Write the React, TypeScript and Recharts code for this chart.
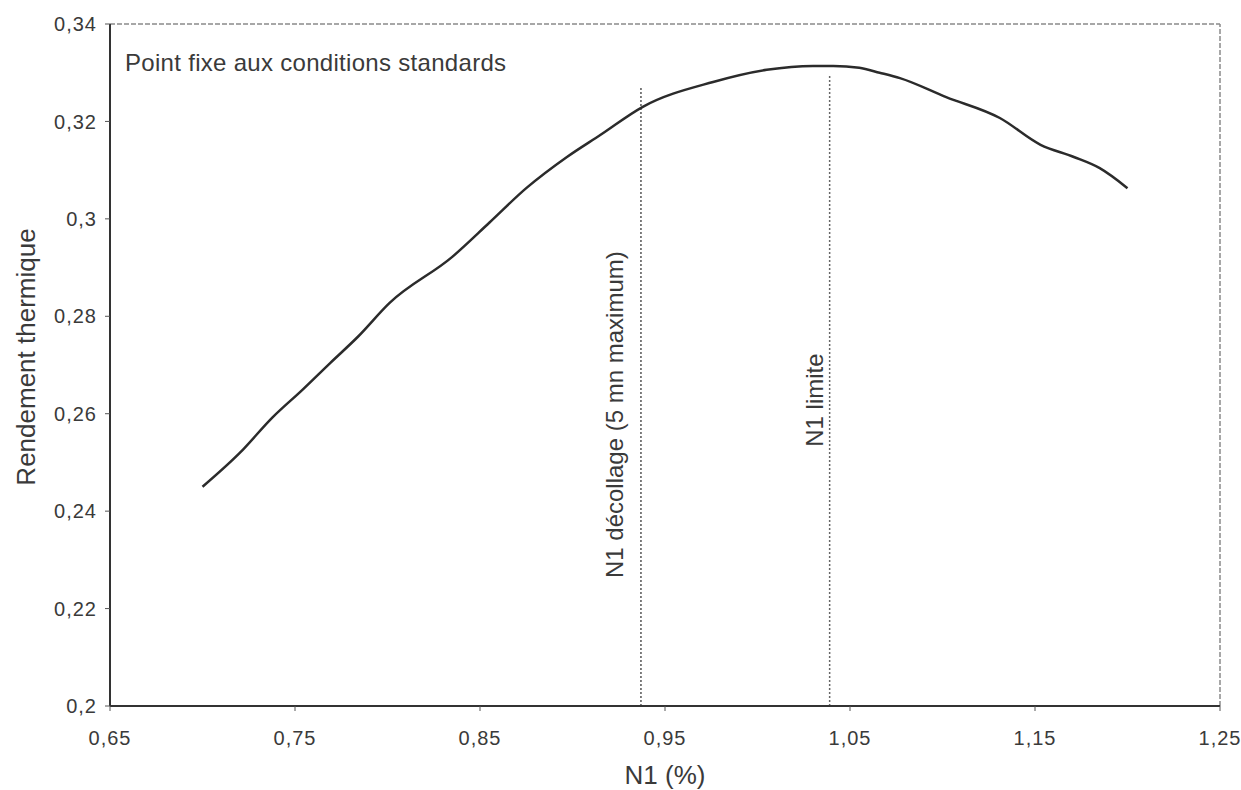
import { LineChart, Line, XAxis, YAxis, ReferenceLine } from "recharts";

const n1Values = [
  0.7, 0.72, 0.738, 0.754, 0.769, 0.784, 0.801, 0.835, 0.855, 0.875, 0.897, 0.915, 0.938,
  0.976, 1.005, 1.03, 1.041, 1.055, 1.066, 1.077, 1.102, 1.131, 1.153, 1.171, 1.185, 1.2,
];
const rendementValues = [
  0.245, 0.2519, 0.2593, 0.2649, 0.2704, 0.2758, 0.2827, 0.2922, 0.2992, 0.3063, 0.3127,
  0.3172, 0.323, 0.3281, 0.3306, 0.3314, 0.3314, 0.331, 0.33, 0.3289, 0.325, 0.3207,
  0.3152, 0.3127, 0.3104, 0.3063,
];
const xTicks = [0.65, 0.75, 0.85, 0.95, 1.05, 1.15, 1.25];
const yTicks = [0.2, 0.22, 0.24, 0.26, 0.28, 0.3, 0.32, 0.34];

// N1 décollage and N1 limite markers: x position, top of the dotted line
const decollage = { x: 0.937, top: 0.327 };
const limite = { x: 1.039, top: 0.3297 };

const data = n1Values.map((n1, i) => ({ n1, rendement: rendementValues[i] }));

const FONT = '"Liberation Sans", Arial, sans-serif';
const TEXT = "#3a3a3a";

const fmt = (v: number) => String(+v.toFixed(2)).replace(".", ",");

const tickStyle = { fill: TEXT, fontSize: 20, fontFamily: FONT, letterSpacing: 1 };

const vLabel = (text: string, dx: number, dy: number) => (props: any) => {
  const vb = props.viewBox || {};
  const cx = vb.x + dx;
  const cy = vb.y + vb.height / 2 + dy;
  return (
    <text
      x={cx}
      y={cy}
      transform={`rotate(-90 ${cx} ${cy})`}
      textAnchor="middle"
      fill={TEXT}
      fontSize={24}
      fontFamily={FONT}
    >
      {text}
    </text>
  );
};

export default function App() {
  return (
    <div style={{ position: "absolute", left: 0, top: 0, width: 1241, height: 790, background: "#fff" }}>
      <LineChart
        width={1241}
        height={790}
        data={data}
        margin={{ top: 24, right: 21, left: 0, bottom: 0 }}
      >
        <XAxis
          type="number"
          dataKey="n1"
          domain={[0.65, 1.25]}
          ticks={xTicks}
          tickFormatter={fmt}
          height={84}
          tickSize={5}
          tickMargin={20}
          axisLine={{ stroke: "#333", strokeWidth: 2 }}
          tickLine={{ stroke: "#555" }}
          tick={tickStyle}
          label={(props: any) => {
            const vb = props.viewBox || {};
            return (
              <text
                x={vb.x + vb.width / 2}
                y={784}
                textAnchor="middle"
                fill={TEXT}
                fontSize={26}
                fontFamily={FONT}
              >
                N1 (%)
              </text>
            );
          }}
        />
        <YAxis
          type="number"
          domain={[0.2, 0.34]}
          ticks={yTicks}
          tickFormatter={fmt}
          width={110}
          tickSize={5}
          tickMargin={8}
          axisLine={{ stroke: "#333", strokeWidth: 2 }}
          tickLine={{ stroke: "#555" }}
          tick={tickStyle}
          label={(props: any) => {
            const vb = props.viewBox || {};
            const cy = vb.y + vb.height / 2 - 8;
            return (
              <text
                x={26}
                y={cy}
                transform={`rotate(-90 26 ${cy})`}
                textAnchor="middle"
                dominantBaseline="central"
                fill={TEXT}
                fontSize={26}
                fontFamily={FONT}
              >
                Rendement thermique
              </text>
            );
          }}
        />
        <ReferenceLine y={0.34} stroke="#8a8a8a" strokeDasharray="5 2" strokeWidth={1.5} />
        <ReferenceLine x={1.25} stroke="#8a8a8a" strokeDasharray="5 2" strokeWidth={1.5} />
        <ReferenceLine
          segment={[
            { x: decollage.x, y: 0.2 },
            { x: decollage.x, y: decollage.top },
          ]}
          stroke="#555"
          strokeDasharray="2 2"
          strokeWidth={1.5}
          label={vLabel("N1 décollage (5 mn maximum)", -18, 18)}
        />
        <ReferenceLine
          segment={[
            { x: limite.x, y: 0.2 },
            { x: limite.x, y: limite.top },
          ]}
          stroke="#666"
          strokeDasharray="2 2"
          strokeWidth={1.5}
          label={vLabel("N1 limite", -7, 10)}
        />
        <Line
          type="monotone"
          dataKey="rendement"
          stroke="#2b2b2b"
          strokeWidth={2.5}
          dot={false}
          isAnimationActive={false}
        />
      </LineChart>
      <div
        style={{
          position: "absolute",
          left: 125,
          top: 51,
          fontSize: 24,
          lineHeight: 1,
          fontFamily: FONT,
          color: TEXT,
          letterSpacing: 0.3,
          whiteSpace: "nowrap",
        }}
      >
        Point fixe aux conditions standards
      </div>
    </div>
  );
}
